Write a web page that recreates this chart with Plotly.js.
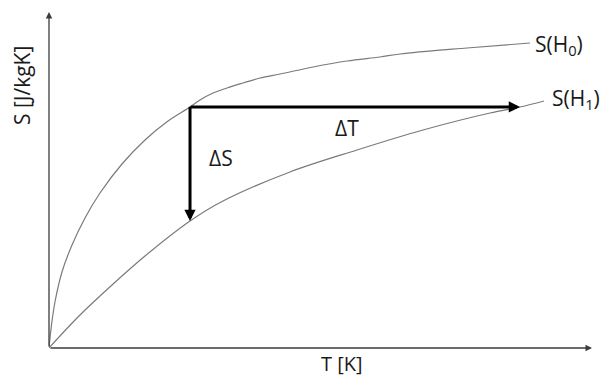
<!DOCTYPE html>
<html>
<head>
<meta charset="utf-8">
<script src="https://cdn.plot.ly/plotly-3.0.1.min.js"></script>
<style>html,body{margin:0;padding:0;background:#fff;}#chart{width:603px;height:378px;}</style>
</head>
<body>
<div id="chart"></div>
<script>
// Schematic values (arbitrary units: T 0..100, S 0..100)
const tH0 = [0, 0.46, 1.10, 2.39, 4.24, 6.63, 9.39, 13.44, 17.68, 21.92, 25.97, 27.81, 30.20, 32.78, 35.73, 38.86, 42.54, 48.62, 54.88, 60.96, 64.64, 76.98, 88.58];
const sH0 = [0, 6.85, 13.69, 22.62, 30.65, 38.69, 46.13, 54.76, 61.90, 67.56, 71.73, 73.81, 75.89, 77.38, 78.87, 80.36, 81.55, 83.63, 85.42, 86.61, 87.50, 89.29, 90.77];
const tH1 = [0, 5.34, 11.60, 17.68, 25.97, 32.04, 44.38, 56.72, 68.88, 81.22, 86.74, 91.16];
const sH1 = [0, 9.23, 18.75, 27.38, 37.80, 43.75, 52.38, 58.93, 64.88, 69.94, 71.73, 73.51];

// Process: start on S(H0), drop to S(H1) at constant T (ΔS), shift to S(H1) at constant S (ΔT)
const startPoint = {t: 25.97, s: 71.73};
const dSEnd = {t: 25.97, s: 37.80};
const dTEnd = {t: 86.74, s: 71.73};

const curveLabels = ['S(H<sub>0</sub>)', 'S(H<sub>1</sub>)'];
const deltaLabels = ['ΔS', 'ΔT'];
const axisTitles = {x: 'T [K]', y: 'S [J/kgK]'};

const fontFam = '"Open Sans", Lato, sans-serif';
const txtColor = '#1a1a1a';

const traces = [
  {x: tH0, y: sH0, mode: 'lines', line: {color: '#7a7a7a', width: 1.2, shape: 'spline', smoothing: 1}, hoverinfo: 'skip'},
  {x: tH1, y: sH1, mode: 'lines', line: {color: '#7a7a7a', width: 1.2, shape: 'spline', smoothing: 1}, hoverinfo: 'skip'}
];

const arrow = (x, y, ax, ay, color, width, head, size) => ({
  x: x, y: y, ax: ax, ay: ay, xref: 'x', yref: 'y', axref: 'x', ayref: 'y',
  text: '', showarrow: true, arrowhead: head, arrowsize: size, arrowwidth: width,
  arrowcolor: color, standoff: 0, startstandoff: 0
});

const label = (ref, x, y, text, xanchor, extra) => Object.assign({
  x: x, y: y, xref: ref === 'paper' ? 'paper' : 'x', yref: ref === 'paper' ? 'paper' : 'y',
  text: text, showarrow: false,
  xanchor: xanchor, yanchor: 'middle', font: {family: fontFam, size: 21, color: txtColor}
}, extra || {});

const annotations = [
  // axes
  arrow(100, 0, 0, 0, '#3c3c3c', 1.3, 2, 1),
  arrow(0, 100, 0, 0, '#3c3c3c', 1.3, 2, 1),
  // process arrows
  arrow(dSEnd.t, dSEnd.s, startPoint.t, startPoint.s + 0.5, '#000', 3, 2, 0.75),
  arrow(dTEnd.t, dTEnd.s, startPoint.t - 0.15, startPoint.s, '#000', 3, 2, 0.75),
  // labels
  label('data', 89.13, 90.18, curveLabels[0], 'left'),
  label('data', 92.26, 74.1, curveLabels[1], 'left'),
  label('data', 31.68, 56.5, deltaLabels[0], 'center'),
  label('data', 54.88, 65.48, deltaLabels[1], 'center'),
  label('paper', 0.5396, -0.0476, axisTitles.x, 'center', {font: {family: fontFam, size: 20, color: txtColor}}),
  label('paper', -0.0497, 0.7798, axisTitles.y, 'center', {textangle: -90})
];

const layout = {
  width: 603, height: 378,
  margin: {l: 49, r: 11, t: 12, b: 30, pad: 0},
  paper_bgcolor: '#ffffff', plot_bgcolor: '#ffffff',
  showlegend: false,
  xaxis: {range: [0, 100], showgrid: false, zeroline: false, showline: false, showticklabels: false, ticks: '', fixedrange: true},
  yaxis: {range: [0, 100], showgrid: false, zeroline: false, showline: false, showticklabels: false, ticks: '', fixedrange: true},
  annotations: annotations
};

Plotly.newPlot('chart', traces, layout, {displayModeBar: false, staticPlot: true});
</script>
</body>
</html>
